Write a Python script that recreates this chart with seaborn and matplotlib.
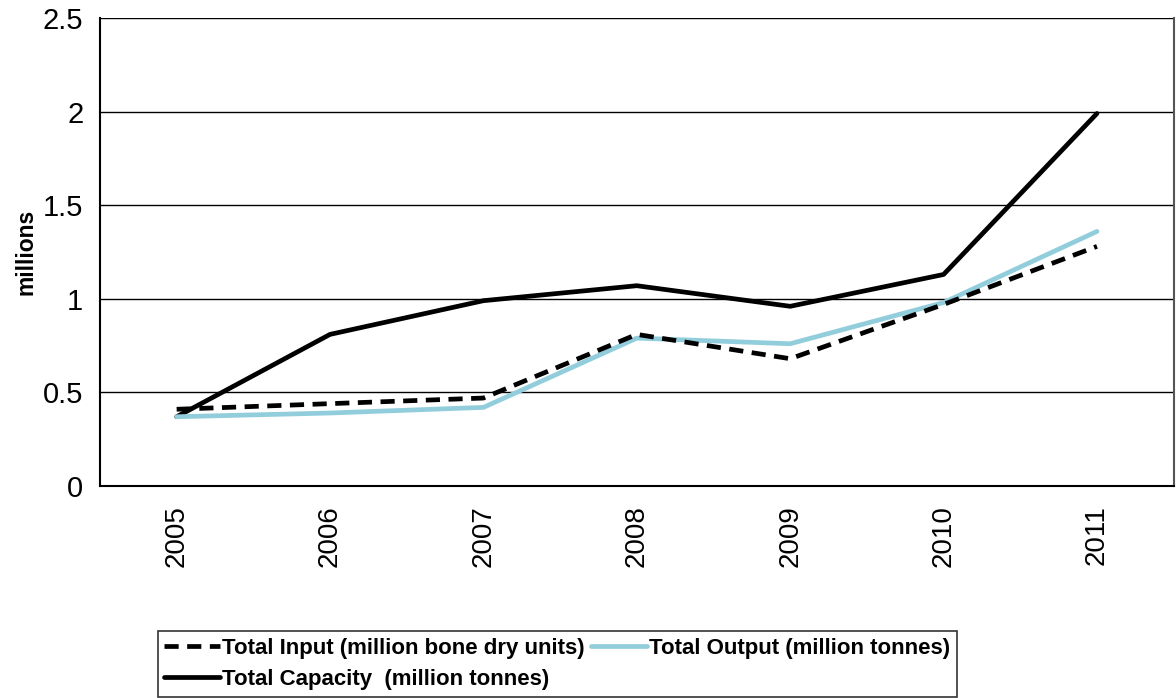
import numpy as np
import pandas as pd
import matplotlib
matplotlib.use("Agg")
import matplotlib.pyplot as plt
import seaborn as sns

# ----------------------------------------
# Data
# ----------------------------------------
years = ["2005", "2006", "2007", "2008", "2009", "2010", "2011"]
total_input = [0.41, 0.44, 0.47, 0.81, 0.68, 0.97, 1.28]
total_output = [0.37, 0.39, 0.42, 0.79, 0.76, 0.98, 1.36]
total_capacity = [0.37, 0.81, 0.99, 1.07, 0.96, 1.13, 1.99]

sns.set_style("white")
plt.rcParams["font.family"] = ["Liberation Sans", "DejaVu Sans"]
plt.rcParams["text.color"] = "black"
plt.rcParams["axes.labelcolor"] = "black"
plt.rcParams["xtick.color"] = "black"
plt.rcParams["ytick.color"] = "black"

df = pd.DataFrame({
    "pos": np.arange(len(years)),
    "input": total_input,
    "output": total_output,
    "capacity": total_capacity,
})

fig = plt.figure(figsize=(11.76, 6.98), dpi=100)
ax = fig.add_axes([0.085, 0.3037, 0.913, 0.6705])

# Lines
sns.lineplot(data=df, x="pos", y="capacity", ax=ax, color="black", linewidth=3.4,
             label="Total Capacity  (million tonnes)")
sns.lineplot(data=df, x="pos", y="output", ax=ax, color="#92CDDC", linewidth=3.4,
             label="Total Output (million tonnes)")
sns.lineplot(data=df, x="pos", y="input", ax=ax, color="black", linewidth=3.4,
             linestyle=(0, (3, 1.8)), label="Total Input (million bone dry units)")

# Axes
ax.set_xlim(-0.5, len(years) - 0.5)
ax.set_ylim(0, 2.5)
ax.set_yticks([0, 0.5, 1, 1.5, 2, 2.5])
ax.set_yticklabels(["0", "0.5", "1", "1.5", "2", "2.5"], fontsize=21)
ax.set_xticks(df["pos"])
ax.set_xticklabels(years, rotation=90, fontsize=20)
ax.set_xticks(np.arange(-0.5, len(years), 1), minor=True)
ax.tick_params(axis="x", which="major", length=0, pad=14)
ax.tick_params(axis="x", which="minor", length=7, width=1.2, direction="out", color="black")
ax.tick_params(axis="y", length=7, width=1.2, direction="out", color="black", pad=5)
ax.set_xlabel("")
ax.set_ylabel("millions", fontsize=16.5, fontweight="bold", labelpad=4)

ax.grid(axis="y", color="black", linewidth=1)
for side in ["left", "bottom"]:
    ax.spines[side].set_color("black")
    ax.spines[side].set_linewidth(1.5)
ax.spines["top"].set_visible(False)
ax.spines["right"].set_color("#555555")
ax.spines["right"].set_linewidth(1.5)

# Legend: row 1 -> Input, Output; row 2 -> Capacity
handles, labels = ax.get_legend_handles_labels()
lookup = dict(zip(labels, handles))
order = ["Total Input (million bone dry units)",
         "Total Capacity  (million tonnes)",
         "Total Output (million tonnes)"]
leg = fig.legend([lookup[k] for k in order], order, ncol=2,
                 loc="lower left", bbox_to_anchor=(0.134, 0.002),
                 borderaxespad=0, frameon=True, fancybox=False, borderpad=0.3,
                 handlelength=2.5, handletextpad=0.1, columnspacing=0.3,
                 labelspacing=0.45, prop={"weight": "bold", "size": 16})
leg.get_frame().set_edgecolor("black")
leg.get_frame().set_linewidth(1.2)
if ax.get_legend():
    ax.get_legend().remove()

fig.savefig("out.png", dpi=100)
